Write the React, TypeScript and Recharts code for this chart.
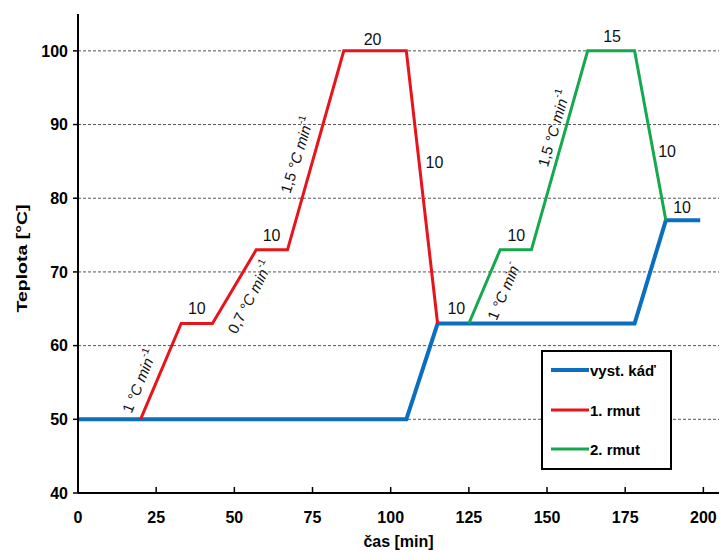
import React from "react";
import { LineChart, Line, XAxis, YAxis, CartesianGrid, Legend } from "recharts";

const FONT = "'Liberation Sans', Arial, Helvetica, sans-serif";

// vyst. káď
const vatTime = [0, 105, 115, 178, 188, 199];
const vatTemp = [50, 50, 63, 63, 77, 77];
// 1. rmut
const mash1Time = [20, 33, 43, 57, 67, 85, 105, 115];
const mash1Temp = [50, 63, 63, 73, 73, 100, 100, 63];
// 2. rmut
const mash2Time = [125, 135, 145, 163, 178, 188];
const mash2Temp = [63, 73, 73, 100, 100, 77];

const xTicks = [0, 25, 50, 75, 100, 125, 150, 175, 200];
const yTicks = [40, 50, 60, 70, 80, 90, 100];
const gridValues = [50, 60, 70, 80, 90, 100];

// annotations (anchor in data units)
const annoTime = [38.0, 61.9, 94.2, 114.0, 19.5, 54.9, 69.9, 121.0, 136.0, 140.2, 152.0, 170.8, 188.4, 193.2];
const annoTemp = [65.1, 75.0, 101.6, 84.9, 55.2, 66.6, 85.9, 65.1, 67.4, 75.0, 89.5, 101.9, 86.3, 78.8];
const annoNum = ["10", "10", "20", "10", "1", "0,7", "1,5", "10", "1", "10", "1,5", "15", "10", "10"];
const annoUnit = ["", "", "", "", " °C min", " °C min", " °C min", "", " °C min", "", " °C min", "", "", ""];
const annoSup = ["", "", "", "", "-1", "-1", "-1", "", "-", "", "-1", "", "", ""];
const annoAngle = [0, 0, 0, 0, -68, -63, -73, 0, -67, 0, -74, 0, 0, 0];

const seriesNames = ["vyst. káď", "1. rmut", "2. rmut"];
const seriesColors = ["#0B6FBF", "#E8141B", "#15A84E"];
const seriesWidths = [4, 3, 3];

const zip = (t: number[], v: number[]) => t.map((x, i) => ({ t: x, y: v[i] }));
const vatData = zip(vatTime, vatTemp);
const mash1Data = zip(mash1Time, mash1Temp);
const mash2Data = zip(mash2Time, mash2Temp);
const annoData = annoTime.map((x, i) => ({
  t: x,
  y: annoTemp[i],
  num: annoNum[i],
  unit: annoUnit[i],
  sup: annoSup[i],
  angle: annoAngle[i],
}));

const renderAnno = (props: any) => {
  const { cx, cy, payload, index } = props;
  if (cx == null || cy == null) return <g key={`a-${index}`} />;
  const rotated = payload.angle !== 0;
  return (
    <g key={`a-${index}`}>
      <text
        x={cx}
        y={cy}
        transform={rotated ? `rotate(${payload.angle}, ${cx}, ${cy})` : undefined}
        textAnchor="middle"
        dominantBaseline="central"
        fontFamily={FONT}
        fontSize={rotated ? 15 : 16}
        fill="#111"
      >
        {payload.num}
        {payload.unit ? <tspan fontStyle="italic">{payload.unit}</tspan> : null}
        {payload.sup ? (
          <tspan dy={-6} fontSize={10}>
            {payload.sup}
          </tspan>
        ) : null}
      </text>
    </g>
  );
};

const LegendBox = () => (
  <div
    style={{
      width: 131,
      height: 120,
      boxSizing: "border-box",
      border: "2px solid #000",
      background: "#fff",
      position: "relative",
      fontFamily: FONT,
    }}
  >
    {seriesNames.map((n, i) => (
      <div
        key={n}
        style={{
          position: "absolute",
          left: 8,
          top: [18, 58, 97][i] - 10,
          height: 20,
          display: "flex",
          alignItems: "center",
        }}
      >
        <svg width={38} height={8} style={{ display: "block" }}>
          <line x1={0} y1={4} x2={38} y2={4} stroke={seriesColors[i]} strokeWidth={seriesWidths[i]} />
        </svg>
        <span style={{ fontWeight: "bold", fontSize: 15, color: "#000", marginLeft: 1, whiteSpace: "nowrap" }}>{n}</span>
      </div>
    ))}
  </div>
);

const YLabel = (props: any) => {
  const vb = props.viewBox || {};
  const cx = (vb.x ?? 0) + 14;
  const cy = (vb.y ?? 0) + (vb.height ?? 0) / 2 + 5;
  return (
    <text
      transform={`translate(${cx}, ${cy}) rotate(-90) scale(1.3, 1)`}
      textAnchor="middle"
      dominantBaseline="central"
      fontFamily={FONT}
      fontWeight="bold"
      fontSize={15}
      fill="#000"
    >
      Teplota [°C]
    </text>
  );
};

const XLabel = (props: any) => {
  const vb = props.viewBox || {};
  const cx = (vb.x ?? 0) + (vb.width ?? 0) / 2;
  const cy = (vb.y ?? 0) + 48;
  return (
    <text x={cx} y={cy} textAnchor="middle" dominantBaseline="central" fontFamily={FONT} fontWeight="bold" fontSize={16} fill="#000">
      čas [min]
    </text>
  );
};

export default function App() {
  return (
    <div style={{ width: 711, height: 545, background: "#fff" }}>
      <LineChart width={711} height={545} margin={{ top: 6, right: 0, left: 0, bottom: 0 }}>
        <CartesianGrid
          vertical={false}
          horizontalValues={gridValues}
          stroke="#555"
          strokeDasharray="3 2"
          strokeWidth={1}
        />
        <XAxis
          type="number"
          dataKey="t"
          domain={[0, 205]}
          ticks={xTicks}
          allowDataOverflow
          height={60}
          tickSize={-6}
          tickMargin={25}
          axisLine={{ stroke: "#000", strokeWidth: 2 }}
          tickLine={{ stroke: "#000", strokeWidth: 1.5 }}
          tick={{ fontSize: 16, fontWeight: "bold", fill: "#000", fontFamily: FONT }}
          label={<XLabel />}
        />
        <YAxis
          type="number"
          domain={[40, 105]}
          ticks={yTicks}
          allowDataOverflow
          width={70}
          tickSize={5}
          tickMargin={5}
          axisLine={{ stroke: "#000", strokeWidth: 2 }}
          tickLine={{ stroke: "#000", strokeWidth: 1.5 }}
          tick={{ fontSize: 16, fontWeight: "bold", fill: "#000", fontFamily: FONT }}
          label={<YLabel />}
        />
        <Legend
          layout="vertical"
          align="center"
          verticalAlign="middle"
          content={() => <LegendBox />}
          wrapperStyle={{ left: 533, top: 342, width: 131, height: 120 }}
        />
        <Line data={vatData} dataKey="y" name={seriesNames[0]} type="linear" stroke={seriesColors[0]} strokeWidth={seriesWidths[0]} dot={false} activeDot={false} isAnimationActive={false} strokeLinecap="butt" />
        <Line data={mash1Data} dataKey="y" name={seriesNames[1]} type="linear" stroke={seriesColors[1]} strokeWidth={seriesWidths[1]} dot={false} activeDot={false} isAnimationActive={false} />
        <Line data={mash2Data} dataKey="y" name={seriesNames[2]} type="linear" stroke={seriesColors[2]} strokeWidth={seriesWidths[2]} dot={false} activeDot={false} isAnimationActive={false} />
        <Line data={annoData} dataKey="y" name="anno" type="linear" stroke="none" dot={renderAnno} activeDot={false} legendType="none" isAnimationActive={false} />
      </LineChart>
    </div>
  );
}
